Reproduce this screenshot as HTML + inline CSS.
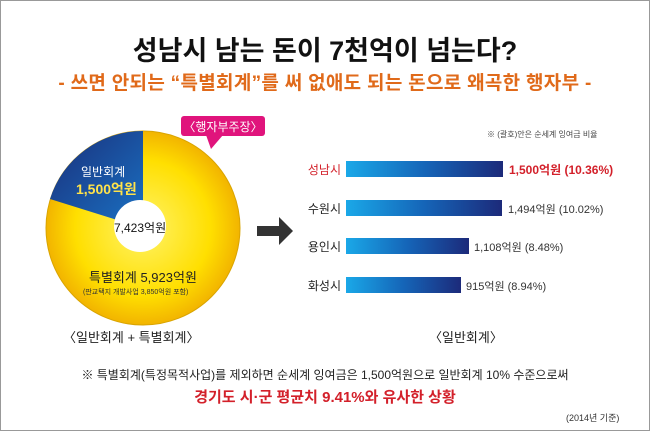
<!DOCTYPE html>
<html><head><meta charset="utf-8"><style>
body{margin:0;background:#fff}
#c{position:relative;width:648px;height:429px;border:1px solid #999;overflow:hidden;font-family:"Liberation Sans","Noto Sans CJK KR",sans-serif;background:#fff}
.t{position:absolute;white-space:nowrap}
.bar{position:absolute;left:345px;height:16px;background:linear-gradient(90deg,#1aa8e8,#1565b8 50%,#1c2a7a)}
.lab{position:absolute;left:300px;width:40px;text-align:right;font-size:12px;color:#222}
.val{position:absolute;font-size:11px;color:#333}
</style></head><body><div id="c">
<div class="t" style="left:0;width:648px;text-align:center;top:28px;font-size:27px;font-weight:bold;color:#111">성남시 남는 돈이 7천억이 넘는다?</div>
<div class="t" style="left:0;width:648px;text-align:center;top:67px;font-size:19px;font-weight:bold;color:#e06a1a;letter-spacing:0.3px">- 쓰면 안되는 “특별회계”를 써 없애도 되는 돈으로 왜곡한 행자부 -</div>
<svg style="position:absolute;left:0;top:0" width="648" height="429">
<defs><radialGradient id="y" cx="50%" cy="50%" r="50%"><stop offset="0" stop-color="#fff36a"/><stop offset="0.7" stop-color="#ffdf00"/><stop offset="1" stop-color="#f2b400"/></radialGradient>
<linearGradient id="b" x1="0" y1="0" x2="1" y2="1"><stop offset="0" stop-color="#1a2f7a"/><stop offset="1" stop-color="#1a72c4"/></linearGradient></defs>
<circle cx="142" cy="227" r="97" fill="url(#y)" stroke="#d9a400" stroke-width="1"/>
<path d="M142 227 L142 130 A97 97 0 0 0 49 198 Z" fill="url(#b)"/>
<circle cx="139" cy="225" r="26" fill="#fff"/>
<rect x="180" y="115" width="84" height="20" rx="3" fill="#e0147c"/>
<path d="M205 134 L210 148 L222 134 Z" fill="#e0147c"/>
<path d="M256 225 h22 v-9 l14 14 l-14 14 v-9 h-22 z" fill="#333"/>
</svg>
<div class="t" style="left:180px;width:84px;text-align:center;top:117px;font-size:12px;color:#fff">〈행자부주장〉</div>
<div class="t" style="left:80px;top:162px;font-size:12px;color:#fff">일반회계</div>
<div class="t" style="left:75px;top:178px;font-size:14px;font-weight:bold;color:#ffe34a">1,500억원</div>
<div class="t" style="left:113px;top:218px;width:52px;text-align:center;font-size:12px;color:#111">7,423억원</div>
<div class="t" style="left:88px;top:266px;font-size:13px;color:#222">특별회계 5,923억원</div>
<div class="t" style="left:82px;top:286px;font-size:7px;color:#333">(판교택지 개발사업 3,850억원 포함)</div>
<div class="t" style="left:62px;top:326px;font-size:13px;color:#222">〈일반회계 + 특별회계〉</div>
<div class="t" style="left:486px;top:128px;font-size:8px;color:#444">※ (괄호)안은 순세계 잉여금 비율</div>
<div class="bar" style="top:160px;width:157px"></div>
<div class="bar" style="top:199px;width:156px"></div>
<div class="bar" style="top:237px;width:123px"></div>
<div class="bar" style="top:276px;width:115px"></div>
<div class="lab" style="top:160px;color:#d3202a">성남시</div>
<div class="lab" style="top:199px">수원시</div>
<div class="lab" style="top:237px">용인시</div>
<div class="lab" style="top:276px">화성시</div>
<div class="val" style="left:508px;top:160px;font-size:12px;font-weight:bold;color:#d3202a">1,500억원 (10.36%)</div>
<div class="val" style="left:507px;top:200px">1,494억원 (10.02%)</div>
<div class="val" style="left:473px;top:238px">1,108억원 (8.48%)</div>
<div class="val" style="left:465px;top:277px">915억원 (8.94%)</div>
<div class="t" style="left:428px;top:326px;font-size:13px;color:#222">〈일반회계〉</div>
<div class="t" style="left:0;width:648px;text-align:center;top:365px;font-size:12px;color:#222">※ 특별회계(특정목적사업)를 제외하면 순세계 잉여금은 1,500억원으로 일반회계 10% 수준으로써</div>
<div class="t" style="left:0;width:648px;text-align:center;top:385px;font-size:15px;font-weight:bold;color:#d3202a">경기도 시·군 평균치 9.41%와 유사한 상황</div>
<div class="t" style="left:565px;top:410px;font-size:9px;color:#333">(2014년 기준)</div>
</div></body></html>
